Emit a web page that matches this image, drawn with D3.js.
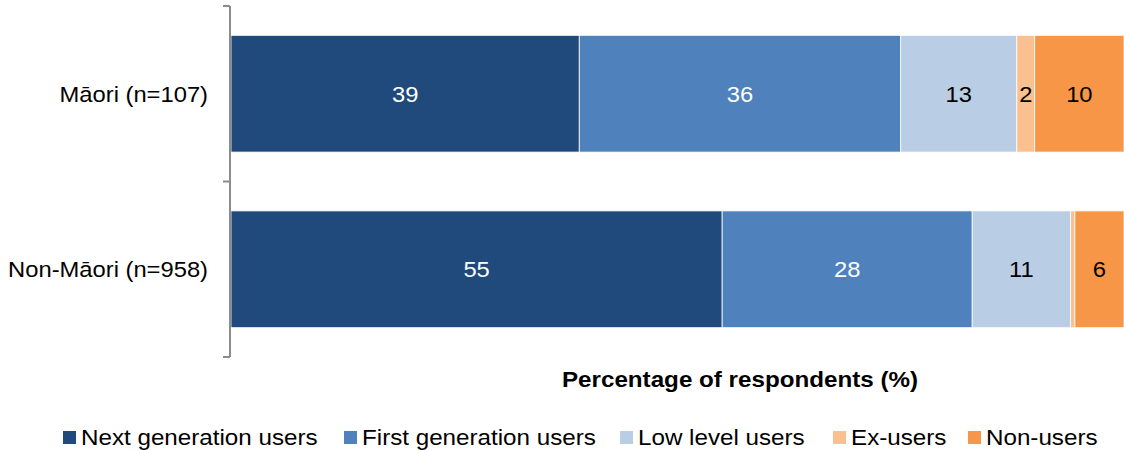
<!DOCTYPE html>
<html>
<head>
<meta charset="utf-8">
<script src="https://cdn.jsdelivr.net/npm/d3@7"></script>
<style>
  html, body { margin: 0; padding: 0; background: #fff; }
  svg { display: block; font-family: "Liberation Sans", Arial, sans-serif; }
</style>
</head>
<body>
<svg id="chart" width="1124" height="450"></svg>
<script>
// Respondent groups and the share in each user category (%)
const groups = ["Māori (n=107)", "Non-Māori (n=958)"];
const seriesNames = ["Next generation users", "First generation users", "Low level users", "Ex-users", "Non-users"];
const nextGeneration = [39, 55];
const firstGeneration = [36, 28];
const lowLevel = [13, 11];
const exUsers = [2, 0.5];
const nonUsers = [10, 6];
const valueLabels = [["39", "55"], ["36", "28"], ["13", "11"], ["2", ""], ["10", "6"]];
const axisTitle = "Percentage of respondents (%)";

const colors = ["#214A7C", "#4F81BD", "#B9CDE5", "#FAC090", "#F79646"];
const labelColors = ["#fff", "#fff", "#000", "#000", "#000"];

const seriesValues = [nextGeneration, firstGeneration, lowLevel, exUsers, nonUsers];
const rows = groups.map((g, i) => {
  const row = { group: g };
  seriesNames.forEach((s, k) => row[s] = seriesValues[k][i]);
  return row;
});

const svg = d3.select("#chart");
const plotLeft = 231, plotRight = 1124, plotTop = 6, plotBottom = 357;
const fontSize = 22;
const stretch = 1.08;       // slightly wide lettering
const legendStretch = 1.1;

const y = d3.scaleBand().domain(groups).range([plotTop, plotBottom]).paddingInner(0.335).paddingOuter(0.167);
const x = d3.scaleLinear().domain([0, 100]).range([plotLeft, plotRight]).clamp(true);

const stack = d3.stack().keys(seriesNames);
const layers = stack(rows);

// Draws a text label horizontally stretched around its anchor point
function stretchedText(sel, px, py) {
  return sel.attr("transform", (d, i) => `translate(${px(d, i)},${py(d, i)}) scale(${stretch},1)`);
}

const layerG = svg.selectAll("g.layer").data(layers).join("g")
  .attr("class", "layer")
  .attr("fill", (d, i) => colors[i]);

layerG.selectAll("rect").data(d => d).join("rect")
  .attr("x", d => x(d[0]))
  .attr("width", d => x(d[1]) - x(d[0]))
  .attr("y", d => y(d.data.group))
  .attr("height", y.bandwidth())
  .attr("stroke", "#fff")
  .attr("stroke-width", 0.8);

layers.forEach((layer, k) => {
  svg.append("g").selectAll("text").data(layer).join("text")
    .call(stretchedText, d => (x(d[0]) + x(d[1])) / 2, d => y(d.data.group) + y.bandwidth() / 2)
    .attr("dy", "0.36em")
    .attr("text-anchor", "middle")
    .attr("font-size", fontSize)
    .attr("fill", labelColors[k])
    .text((d, i) => valueLabels[k][i]);
});

// Category axis on the left with outer tick marks at band edges
const axisColor = "#8C8C8C";
svg.append("line")
  .attr("x1", plotLeft - 1).attr("x2", plotLeft - 1)
  .attr("y1", plotTop).attr("y2", plotBottom)
  .attr("stroke", axisColor).attr("stroke-width", 2);
const edges = [plotTop, ...groups.slice(1).map(g => y(g) - y.step() * y.paddingInner() / 2), plotBottom];
svg.selectAll("line.tick").data(edges).join("line")
  .attr("class", "tick")
  .attr("x1", plotLeft - 8).attr("x2", plotLeft - 1)
  .attr("y1", d => d).attr("y2", d => d)
  .attr("stroke", axisColor).attr("stroke-width", 2);

svg.selectAll("text.cat").data(groups).join("text")
  .attr("class", "cat")
  .call(stretchedText, () => 208, d => y(d) + y.bandwidth() / 2)
  .attr("dy", "0.36em")
  .attr("text-anchor", "end")
  .attr("font-size", fontSize)
  .attr("fill", "#000")
  .text(d => d);

svg.append("text")
  .attr("transform", `translate(740,379) scale(${legendStretch},1)`)
  .attr("dy", "0.36em")
  .attr("text-anchor", "middle")
  .attr("font-size", fontSize)
  .attr("font-weight", "bold")
  .text(axisTitle);

// Legend
const legendX = [63, 344, 620, 833, 968];
const legend = svg.selectAll("g.legend").data(seriesNames).join("g")
  .attr("class", "legend")
  .attr("transform", (d, i) => `translate(${legendX[i]},437)`);
legend.append("rect")
  .attr("x", 0).attr("y", -6).attr("width", 13).attr("height", 13)
  .attr("fill", (d, i) => colors[i]);
legend.append("text")
  .attr("transform", `translate(18,0) scale(${legendStretch},1)`)
  .attr("dy", "0.36em")
  .attr("font-size", fontSize)
  .text(d => d);
</script>
</body>
</html>
